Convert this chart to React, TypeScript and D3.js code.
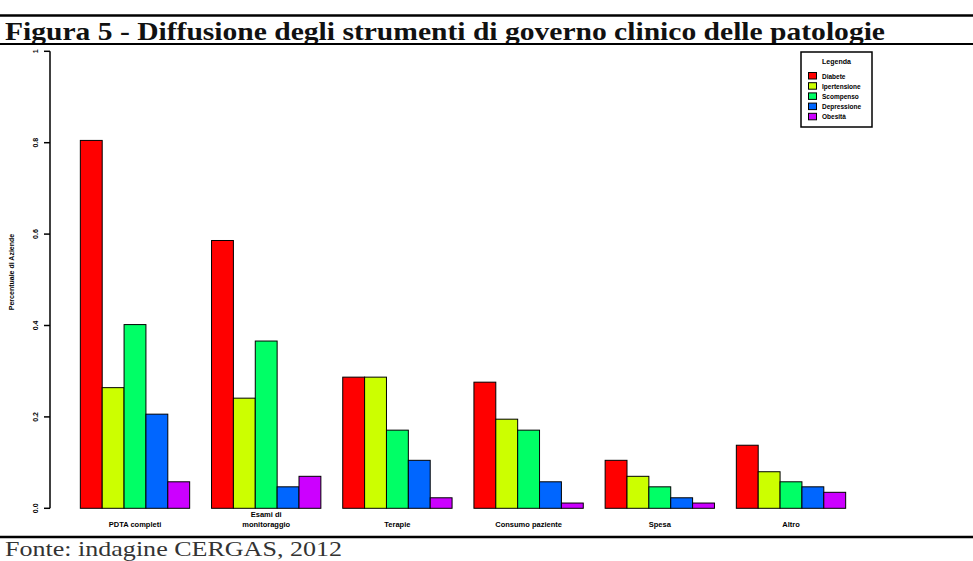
import React from "react";
import * as d3 from "d3";

const categories = ["PDTA completi", "Esami di\nmonitoraggio", "Terapie", "Consumo paziente", "Spesa", "Altro"];
const seriesNames = ["Diabete", "Ipertensione", "Scompenso", "Depressione", "Obesità"];
const seriesColors = ["#FF0000", "#CCFF00", "#00FF66", "#0066FF", "#CC00FF"];
const diabete = [0.805, 0.586, 0.287, 0.276, 0.105, 0.138];
const ipertensione = [0.264, 0.241, 0.287, 0.195, 0.07, 0.08];
const scompenso = [0.402, 0.366, 0.171, 0.171, 0.047, 0.058];
const depressione = [0.206, 0.047, 0.105, 0.058, 0.023, 0.047];
const obesita = [0.058, 0.07, 0.023, 0.0115, 0.0115, 0.035];
const yTicks = [0, 0.2, 0.4, 0.6, 0.8, 1];
const yTickLabels = ["0.0", "0.2", "0.4", "0.6", "0.8", "1"];
const titleText = "Figura 5 - Diffusione degli strumenti di governo clinico delle patologie";
const sourceText = "Fonte: indagine CERGAS, 2012";
const yAxisTitle = "Percentuale di Aziende";
const legendTitle = "Legenda";

const seriesValues = [diabete, ipertensione, scompenso, depressione, obesita];

export default function App() {
  const W = 973;
  const H = 561;
  const x0 = d3.scaleBand<string>().domain(categories).range([69.4, 856.6]).paddingInner(1 / 6).paddingOuter(1 / 12);
  const x1 = d3.scaleBand<string>().domain(seriesNames).range([0, x0.bandwidth()]).padding(0);
  const y = d3.scaleLinear().domain([0, 1]).range([508.3, 51.3]);
  const small = "'Liberation Sans', Arial, sans-serif";
  const serif = "'Liberation Serif', 'Times New Roman', serif";

  return (
    <svg width={W} height={H} style={{ position: "absolute", left: 0, top: 0, background: "#fff" }}>
      <rect x={0} y={0} width={W} height={H} fill="#fff" />
      {/* title block */}
      <line x1={0} x2={W} y1={15.5} y2={15.5} stroke="#000" strokeWidth={2.5} />
      <text x={5} y={39.5} fontFamily={serif} fontWeight="bold" fontSize={25} textLength={880} lengthAdjust="spacingAndGlyphs" fill="#111">
        {titleText}
      </text>
      <line x1={0} x2={W} y1={44} y2={44} stroke="#000" strokeWidth={2} />

      {/* bars */}
      {categories.map((c, gi) => (
        <g key={c} transform={`translate(${x0(c)},0)`}>
          {seriesNames.map((s, si) => {
            const v = seriesValues[si][gi];
            return (
              <rect
                key={s}
                x={x1(s)}
                y={y(v)}
                width={x1.bandwidth()}
                height={y(0) - y(v)}
                fill={seriesColors[si]}
                stroke="#000"
                strokeWidth={1}
              />
            );
          })}
        </g>
      ))}

      {/* y axis */}
      <line x1={50} x2={50} y1={y(0)} y2={y(1)} stroke="#000" strokeWidth={1.5} />
      {yTicks.map((t, i) => (
        <g key={t}>
          <line x1={44} x2={50} y1={y(t)} y2={y(t)} stroke="#000" strokeWidth={1.5} />
          <text
            transform={`translate(${38},${y(t)}) rotate(-90)`}
            textAnchor="middle"
            fontFamily={small}
            fontWeight="bold"
            fontSize={7}
            fill="#000"
          >
            {yTickLabels[i]}
          </text>
        </g>
      ))}
      <text
        transform={`translate(${14},${272}) rotate(-90)`}
        textAnchor="middle"
        fontFamily={small}
        fontWeight="bold"
        fontSize={7}
        fill="#000"
      >
        {yAxisTitle}
      </text>

      {/* x labels */}
      {categories.map((c) => {
        const lines = c.split("\n");
        const cx = (x0(c) as number) + x0.bandwidth() / 2;
        return (
          <text key={c} x={cx} textAnchor="middle" fontFamily={small} fontWeight="bold" fontSize={7.5} fill="#000">
            {lines.map((l, li) => (
              <tspan key={li} x={cx} y={527 - (lines.length - 1 - li) * 10}>
                {l}
              </tspan>
            ))}
          </text>
        );
      })}

      {/* legend */}
      <rect x={801} y={52} width={71} height={75} fill="#fff" stroke="#000" strokeWidth={1.5} />
      <text x={836.5} y={64} textAnchor="middle" fontFamily={small} fontWeight="bold" fontSize={7} fill="#000">
        {legendTitle}
      </text>
      {seriesNames.map((s, i) => (
        <g key={s}>
          <rect x={808.5} y={72.5 + i * 10.2} width={8} height={6.5} fill={seriesColors[i]} stroke="#000" strokeWidth={1} />
          <text x={822} y={78.5 + i * 10.2} fontFamily={small} fontWeight="bold" fontSize={6.5} fill="#000">
            {s}
          </text>
        </g>
      ))}

      {/* source */}
      <line x1={0} x2={W} y1={537} y2={537} stroke="#000" strokeWidth={2.5} />
      <text x={5} y={555.5} fontFamily={serif} fontSize={21} textLength={337} lengthAdjust="spacingAndGlyphs" fill="#333">
        {sourceText}
      </text>
    </svg>
  );
}
